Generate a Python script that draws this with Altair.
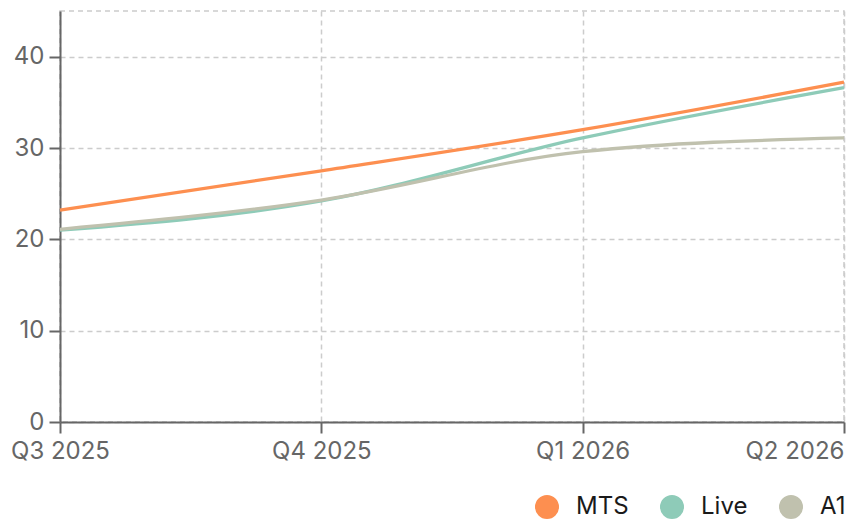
import altair as alt
import pandas as pd

quarters = ["Q3 2025", "Q4 2025", "Q1 2026", "Q2 2026"]
series = ["MTS", "Live", "A1"]
mts = [23.2, 27.5, 32.0, 37.2]
live = [21.0, 24.2, 31.1, 36.6]
a1 = [21.1, 24.3, 29.6, 31.1]
colors = ["#fd8f50", "#8ecbb8", "#c0c1ae"]

rows = []
for name, vals in zip(series, [mts, live, a1]):
    for i, (q, v) in enumerate(zip(quarters, vals)):
        rows.append({"quarter": q, "value": v, "series": name, "order": series.index(name)})
df = pd.DataFrame(rows)

chart = alt.Chart(df).mark_line(interpolate="monotone", strokeWidth=3.3).encode(
    x=alt.X("quarter:O", sort=quarters, title=None,
            scale=alt.Scale(type="point", padding=0),
            axis=alt.Axis(labelAngle=0, grid=True, gridDash=[5, 4], gridColor="#cccccc",
                          gridWidth=1.5,
                          domainColor="#666666", domainWidth=2, tickColor="#666666",
                          tickWidth=2, tickSize=11, labelColor="#666666", labelFontSize=24,
                          labelFont="Inter", labelPadding=6, labelOverlap=False,
                          labelAlign={"expr": "datum.value == 'Q2 2026' ? 'right' : 'center'"})),
    y=alt.Y("value:Q", title=None, scale=alt.Scale(domain=[0, 45], nice=False),
            axis=alt.Axis(values=[0, 10, 20, 30, 40], grid=True, gridDash=[5, 4],
                          gridColor="#cccccc", gridWidth=1.5, domainColor="#666666",
                          domainWidth=2, tickColor="#666666", tickWidth=2, tickSize=11,
                          labelColor="#666666", labelFontSize=24, labelFont="Inter",
                          labelPadding=5)),
    color=alt.Color("series:N", sort=series, title=None,
                    scale=alt.Scale(domain=series, range=colors),
                    legend=alt.Legend(orient="none", legendX=475, legendY=484,
                                      direction="horizontal", symbolType="circle",
                                      symbolSize=144, symbolStrokeWidth=12,
                                      symbolOpacity=1, labelFontSize=24, labelFont="Inter",
                                      labelColor="#1a1a1a", labelOffset=17,
                                      columnPadding=13)),
    order=alt.Order("order:Q"),
    detail="series:N",
).properties(
    width=784, height=411,
    padding={"top": 3, "left": 2, "right": 0, "bottom": 0},
).configure_view(
    stroke="#cccccc", strokeDash=[5, 4], strokeWidth=1.5
)

chart.save("out.html", embed_options={"renderer": "svg", "actions": False})
